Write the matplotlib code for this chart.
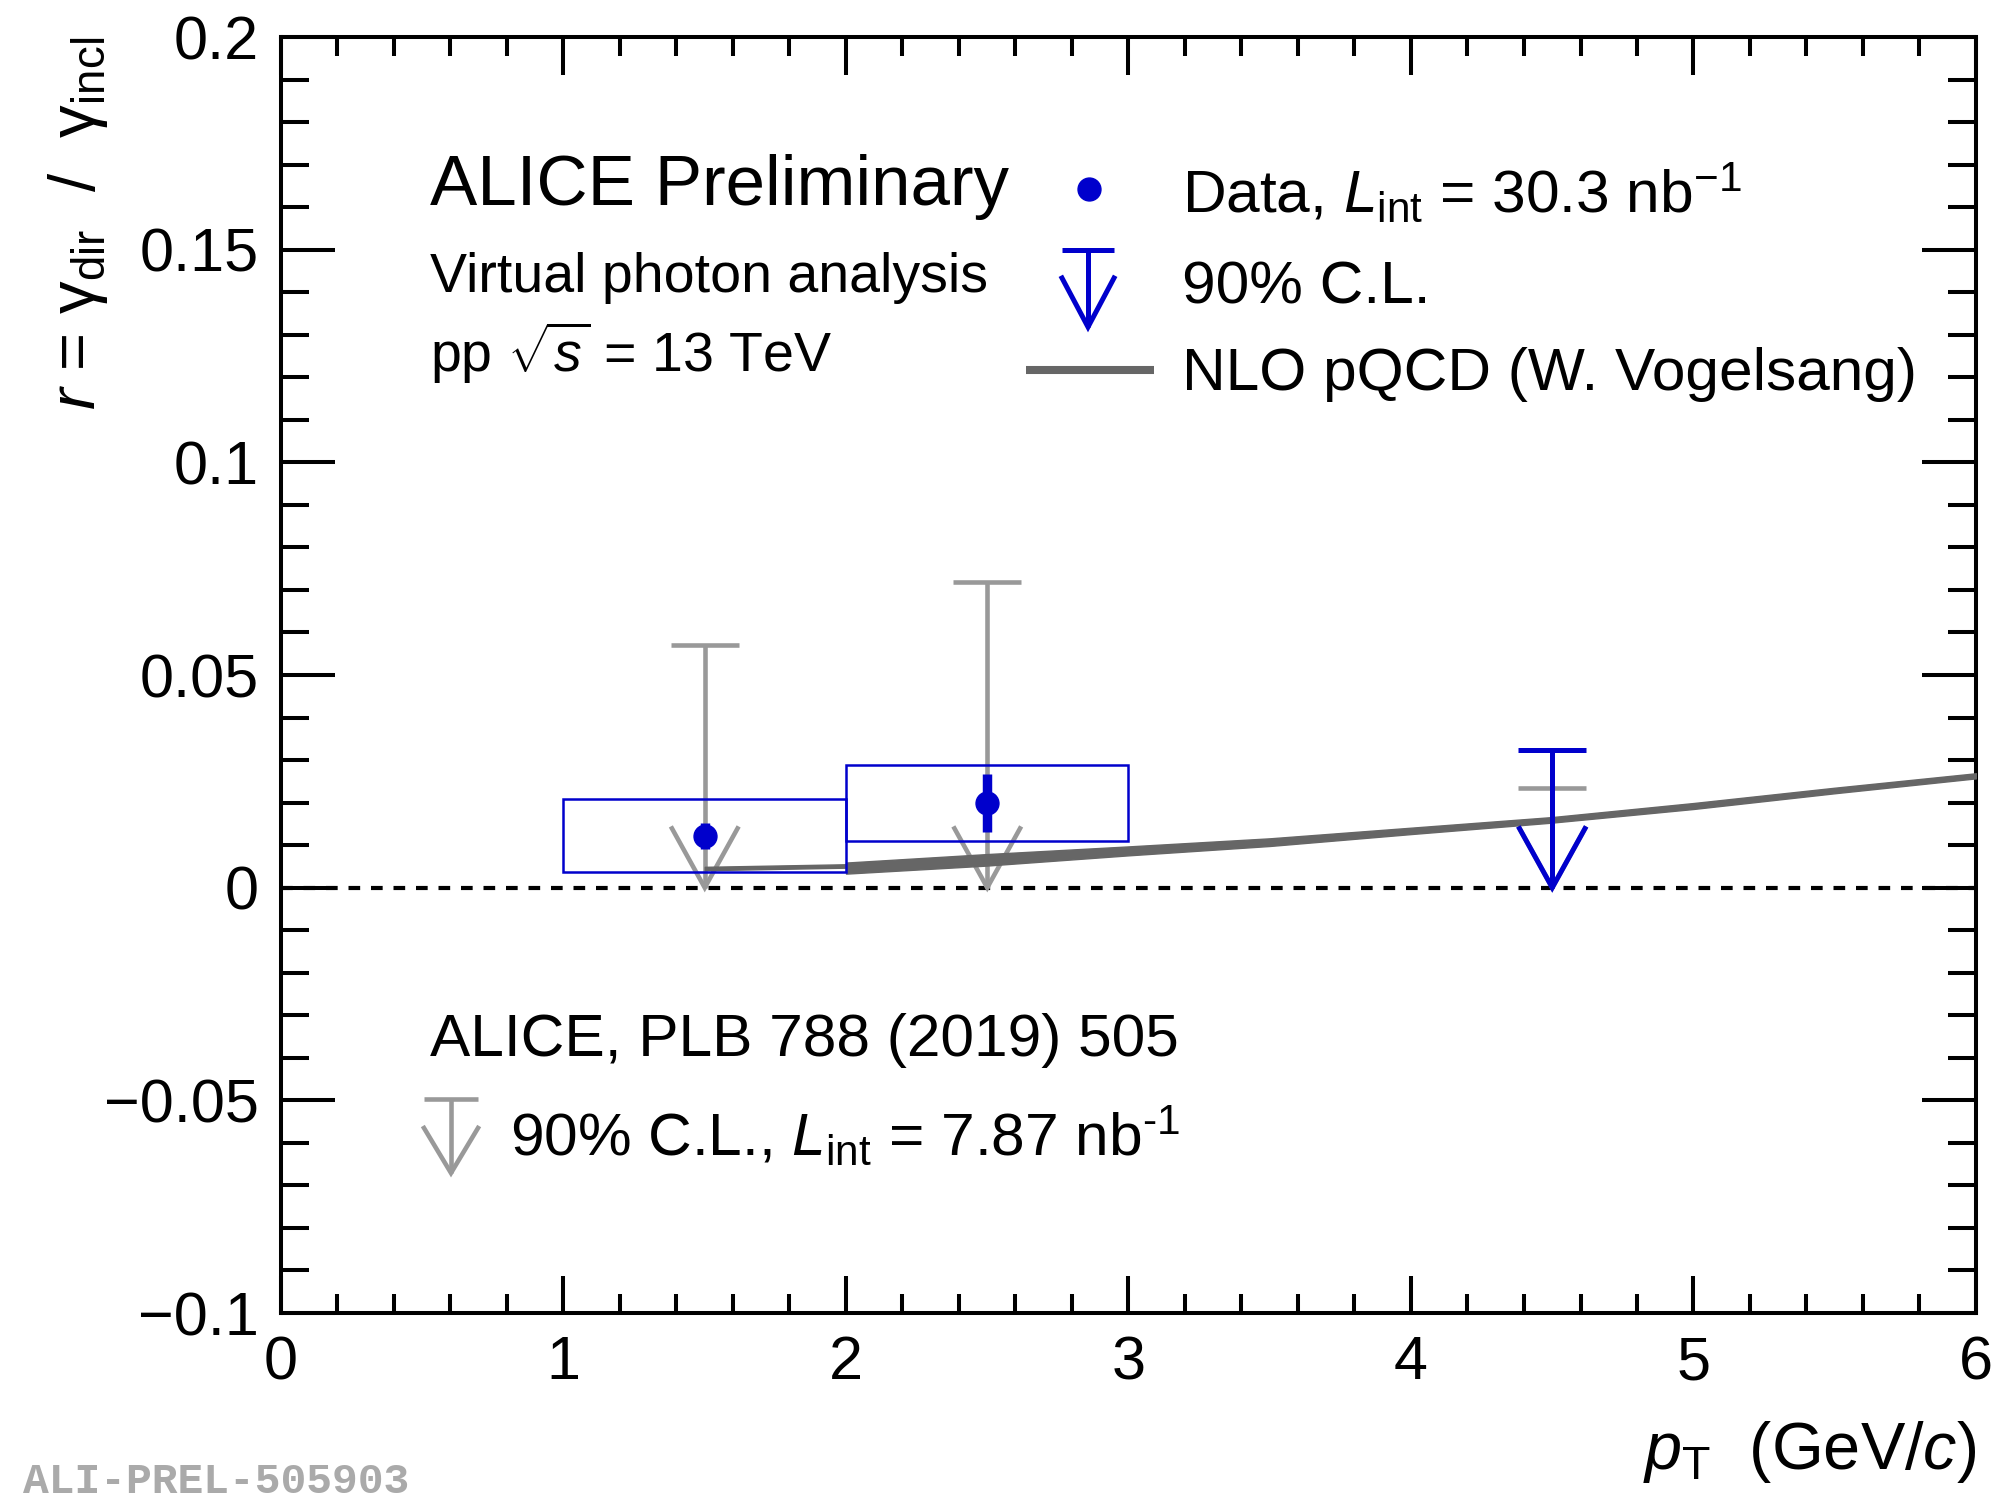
import numpy as np
import matplotlib.pyplot as plt
from matplotlib.lines import Line2D
from matplotlib.patches import Rectangle
from matplotlib.transforms import Affine2D
from matplotlib.ticker import MultipleLocator, FixedLocator

plt.rcParams["font.family"] = ["Liberation Sans", "DejaVu Sans"]
plt.rcParams["mathtext.fontset"] = "custom"
plt.rcParams["mathtext.rm"] = "Liberation Sans"
plt.rcParams["mathtext.it"] = "Liberation Sans:italic"
plt.rcParams["mathtext.bf"] = "Liberation Sans:bold"
plt.rcParams["axes.unicode_minus"] = True

# ------------------------------------------------------------
# data: r = gamma_dir / gamma_incl, pp 13 TeV
# ------------------------------------------------------------
pt_data = [1.5, 2.5]
r_data = [0.0122, 0.0199]
r_stat = [0.0030, 0.0068]
bin_lo = [1.0, 2.0]
bin_hi = [2.0, 3.0]
sys_lo = [0.0037, 0.0109]
sys_hi = [0.0209, 0.0289]

# 90% C.L. upper limit (this analysis)
pt_ul = [4.5]
r_ul = [0.0324]

# 90% C.L. upper limits, PLB 788 (2019) 505
pt_old = [1.5, 2.5, 4.5]
r_old = [0.0570, 0.0718, 0.0235]

# NLO pQCD band
nlo_pt = [1.5, 2.0, 2.0, 2.5, 3.0, 3.5, 4.0, 4.5, 5.0, 5.5, 6.0]
nlo_lo = [0.0041, 0.0047, 0.0033, 0.0052, 0.0076, 0.0098, 0.0126, 0.0153, 0.0185, 0.0222, 0.0257]
nlo_hi = [0.0049, 0.0055, 0.0059, 0.0079, 0.0097, 0.0116, 0.0141, 0.0166, 0.0199, 0.0235, 0.0269]

y_ticks = [-0.1, -0.05, 0.0, 0.05, 0.1, 0.15, 0.2]
y_ticklabels = ["\u22120.1", "\u22120.05", "0", "0.05", "0.1", "0.15", "0.2"]

BLUE = "#0000cc"
GRAY = "#999999"
BAND = "#666666"

W, H = 1999, 1499
fig = plt.figure(figsize=(W / 100, H / 100), dpi=100)
ax = fig.add_axes([281 / W, 1 - 1313 / H, (1976 - 281) / W, (1313 - 37) / H])
ax.set_xlim(0, 6)
ax.set_ylim(-0.1, 0.2)

# pixel transform, origin at top-left
PX = Affine2D().scale(1, -1).translate(0, H)


def upper_limit(x, y, color, lw, z):
    """arrow from y down to zero with a cap at y"""
    half = 0.12
    head = 0.0144
    ax.plot([x, x], [y, 0], color=color, lw=lw, solid_capstyle="butt", zorder=z)
    ax.plot([x - half, x + half], [y, y], color=color, lw=lw,
            solid_capstyle="butt", zorder=z)
    ax.plot([x - half, x, x + half], [head, 0, head], color=color, lw=lw,
            solid_joinstyle="miter", solid_capstyle="butt", zorder=z)


def legend_arrow(x, y_cap, y_head, y_tip, half, color, lw):
    fig.add_artist(Line2D([x, x], [y_cap, y_tip], color=color, lw=lw,
                          transform=PX, solid_capstyle="butt"))
    fig.add_artist(Line2D([x - half, x + half], [y_cap, y_cap], color=color,
                          lw=lw, transform=PX, solid_capstyle="butt"))
    fig.add_artist(Line2D([x - half, x, x + half], [y_head, y_tip, y_head],
                          color=color, lw=lw, transform=PX,
                          solid_joinstyle="miter"))


# zero line
ax.axhline(0, color="black", lw=3.0, dashes=(2.8, 2.6), zorder=2)

# old upper limits
for x, y in zip(pt_old, r_old):
    upper_limit(x, y, GRAY, 3.3, 3)

# NLO band
ax.fill_between(nlo_pt, nlo_lo, nlo_hi, color=BAND, lw=1.0, edgecolor=BAND, zorder=4)

# systematic boxes
for x0, x1, y0, y1 in zip(bin_lo, bin_hi, sys_lo, sys_hi):
    ax.add_patch(Rectangle((x0, y0), x1 - x0, y1 - y0, fill=False,
                           edgecolor=BLUE, lw=1.8, zorder=5))

# data points with statistical errors
ax.errorbar(pt_data, r_data, yerr=r_stat, fmt="none", ecolor=BLUE,
            elinewidth=6.8, capsize=0, zorder=6)
ax.plot(pt_data, r_data, "o", color=BLUE, ms=16.5, mec=BLUE, zorder=7)

# upper limit from this analysis
for x, y in zip(pt_ul, r_ul):
    upper_limit(x, y, BLUE, 3.6, 8)

# axes styling
for s in ax.spines.values():
    s.set_linewidth(2.9)
ax.yaxis.set_major_locator(FixedLocator(y_ticks))
ax.set_yticklabels(y_ticklabels)
ax.yaxis.set_minor_locator(MultipleLocator(0.01))
ax.xaxis.set_major_locator(MultipleLocator(1))
ax.xaxis.set_minor_locator(MultipleLocator(0.2))
ax.tick_params(axis="both", which="both", direction="in", top=True,
               right=True, width=2.9, labelsize=44, pad=16)
ax.tick_params(axis="y", which="major", length=39)
ax.tick_params(axis="y", which="minor", length=20)
ax.tick_params(axis="x", which="major", length=27)
ax.tick_params(axis="x", which="minor", length=14)

# axis titles
ax.text(1.0, -0.1224, r"$p_{\rm T}$  (GeV/$c$)", transform=ax.transAxes,
        ha="right", va="baseline", fontsize=48)
ax.text(-0.101, 1.0,
        r"$r$ = γ$_{\rm dir}$  /  γ$_{\rm incl}$",
        transform=ax.transAxes, rotation=90, rotation_mode="anchor",
        ha="right", va="bottom", fontsize=47)

# labels
fig.text(430, 205, "ALICE Preliminary", transform=PX, fontsize=51)
fig.text(430, 292, "Virtual photon analysis", transform=PX, fontsize=40)
fig.text(430, 372, r"pp $\sqrt{s}$ = 13 TeV", transform=PX, fontsize=40)

# legend
fig.add_artist(Line2D([1089], [189], marker="o", ms=16.5, color=BLUE,
                      transform=PX, ls="none"))
fig.text(1182, 212, "Data, $L_{\\rm int}$ = 30.3 nb$^{\\text{\u22121}}$",
         transform=PX, fontsize=43.5)
legend_arrow(1088, 250, 278, 327, 26, BLUE, 3.6)
fig.text(1182, 303, "90% C.L.", transform=PX, fontsize=43.5)
fig.add_artist(Line2D([1026, 1154], [370, 370], color=BAND, lw=5.8,
                      transform=PX, solid_capstyle="butt"))
fig.text(1182, 390, "NLO pQCD (W. Vogelsang)", transform=PX, fontsize=43.5)

fig.text(430, 1056, "ALICE, PLB 788 (2019) 505", transform=PX, fontsize=43.5)
legend_arrow(451, 1099, 1128, 1173, 27, GRAY, 3.3)
fig.text(510, 1155, r"90% C.L., $L_{\rm int}$ = 7.87 nb$^{\text{-1}}$",
         transform=PX, fontsize=43.5)

fig.text(23, 1462, "ALI-PREL-505903", transform=PX, fontsize=31,
         family="Liberation Mono", weight="bold", color="#aaaaaa", va="top")

fig.savefig("out.png", dpi=100)
